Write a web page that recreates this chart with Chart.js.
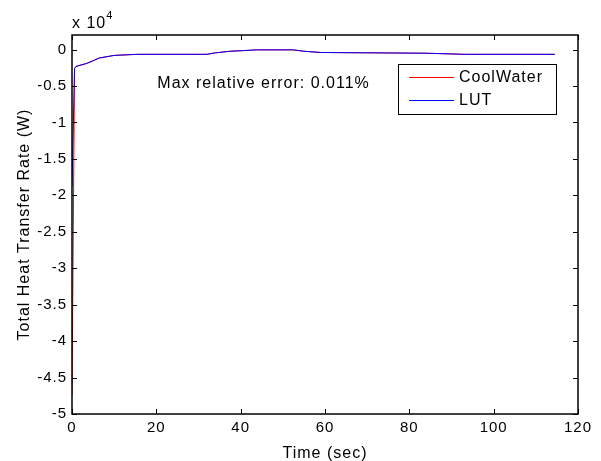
<!DOCTYPE html>
<html>
<head>
<meta charset="utf-8">
<script src="https://cdn.jsdelivr.net/npm/chart.js@4/dist/chart.umd.min.js"></script>
<style>
  html, body { margin: 0; padding: 0; background: #fff; }
  #wrap { width: 601px; height: 461px; }
</style>
</head>
<body>
<div id="wrap"><canvas id="heatChart" width="601" height="461"></canvas></div>
<script>
// ---- data (W vs sec) ----
const timeCool = [0, 0.6, 1, 3.5, 6.5, 10, 15.5, 32, 34, 37.5, 44, 52.5, 55, 59, 84, 93, 114.5];
const heatCool = [-47400, -2600, -2300, -1900, -1150, -800, -650, -650, -450, -230, -40, -40, -230, -400, -500, -650, -650];
const timeLut = [0, 0.6, 1, 3.5, 6.5, 10, 15.5, 32, 34, 37.5, 44, 52.5, 55, 59, 84, 93, 114.5];
const heatLut = [-18800, -2600, -2300, -1900, -1150, -800, -650, -650, -450, -230, -40, -40, -230, -400, -500, -650, -650];
const seriesNames = ["CoolWater", "LUT"];
const xTicks = [0, 20, 40, 60, 80, 100, 120];
const yTicks = [0, -5000, -10000, -15000, -20000, -25000, -30000, -35000, -40000, -45000, -50000];
const noteText = "Max relative error: 0.011%";

const FONT = "'Liberation Sans', Arial, sans-serif";

function toPoints(xs, ys) {
    return xs.map((x, i) => ({ x: x, y: ys[i] }));
}

// matlab text is a bit wider than Arial, fake it with letter spacing
const spacing = {
    id: "spacing",
    beforeLayout(chart) { chart.ctx.letterSpacing = "1px"; },
    beforeDraw(chart) { chart.ctx.letterSpacing = "1px"; }
};

// MATLAB style box, inward ticks, exponent, note and legend
const matlabDecor = {
    id: "matlabDecor",
    afterDraw(chart) {
        const ctx = chart.ctx;
        const a = chart.chartArea;
        const xs = chart.scales.x;
        const ys = chart.scales.y;
        const tl = 5;
        ctx.save();
        ctx.strokeStyle = "#000";
        ctx.lineWidth = 1;
        ctx.beginPath();
        xTicks.forEach(v => {
            const px = Math.round(xs.getPixelForValue(v)) + 0.5;
            ctx.moveTo(px, a.bottom); ctx.lineTo(px, a.bottom - tl);
            ctx.moveTo(px, a.top); ctx.lineTo(px, a.top + tl);
        });
        yTicks.forEach(v => {
            const py = Math.round(ys.getPixelForValue(v)) + 0.5;
            ctx.moveTo(a.left, py); ctx.lineTo(a.left + tl, py);
            ctx.moveTo(a.right, py); ctx.lineTo(a.right - tl, py);
        });
        ctx.stroke();

        // axes box
        ctx.lineWidth = 1.5;
        ctx.strokeRect(a.left, a.top, a.right - a.left, a.bottom - a.top);

        // exponent label
        ctx.fillStyle = "#000";
        ctx.textBaseline = "alphabetic";
        ctx.textAlign = "left";
        ctx.font = "16px " + FONT;
        ctx.fillText("x 10", a.left, 28);
        const w = ctx.measureText("x 10").width;
        ctx.font = "11px " + FONT;
        ctx.fillText("4", a.left + w, 19);

        // note
        ctx.font = "16px " + FONT;
        ctx.textBaseline = "middle";
        ctx.fillText(noteText, xs.getPixelForValue(20) + 1, ys.getPixelForValue(-5000) - 2);

        // legend
        const lx = 398, ly = 64, lw = 158, lh = 50;
        ctx.fillStyle = "#fff";
        ctx.fillRect(lx, ly, lw, lh);
        ctx.lineWidth = 1;
        ctx.strokeStyle = "#000";
        ctx.strokeRect(lx + 0.5, ly + 0.5, lw, lh);
        chart.data.datasets.forEach((ds, i) => {
            const yy = ly + 13 + i * 23;
            ctx.strokeStyle = ds.borderColor;
            ctx.beginPath();
            ctx.moveTo(lx + 11, yy + 0.5);
            ctx.lineTo(lx + 56, yy + 0.5);
            ctx.stroke();
            ctx.fillStyle = "#000";
            ctx.fillText(ds.label, lx + 61, yy + 1);
        });
        ctx.restore();
    }
};

const chart = new Chart(document.getElementById("heatChart").getContext("2d"), {
    type: "line",
    data: {
        datasets: [
            {
                label: seriesNames[0],
                data: toPoints(timeCool, heatCool),
                borderColor: "#ff0000",
                borderWidth: 1,
                pointRadius: 0,
                tension: 0,
                order: 1
            },
            {
                label: seriesNames[1],
                data: toPoints(timeLut, heatLut),
                borderColor: "#0000ff",
                borderWidth: 1,
                pointRadius: 0,
                tension: 0,
                order: 0
            }
        ]
    },
    options: {
        responsive: false,
        animation: false,
        layout: { padding: { left: 0, top: 35, right: 23, bottom: 0 } },
        plugins: {
            legend: { display: false },
            tooltip: { enabled: false }
        },
        scales: {
            x: {
                type: "linear",
                min: 0,
                max: 120,
                afterBuildTicks: s => { s.ticks = xTicks.map(v => ({ value: v })); },
                afterFit: s => { s.height = 47; },
                grid: { display: false, drawTicks: false },
                border: { display: false },
                ticks: { color: "#000", padding: 5, maxRotation: 0, font: { family: FONT, size: 15 } },
                title: {
                    display: true,
                    text: "Time (sec)",
                    color: "#000",
                    padding: { top: 0, bottom: -2 },
                    font: { family: FONT, size: 16 }
                }
            },
            y: {
                type: "linear",
                min: -50000,
                max: 2000,
                afterBuildTicks: s => { s.ticks = yTicks.map(v => ({ value: v })); },
                afterFit: s => { s.width = 72; },
                grid: { display: false, drawTicks: false },
                border: { display: false },
                ticks: {
                    color: "#000",
                    padding: 5,
                    font: { family: FONT, size: 15 },
                    callback: v => String(v / 10000)
                },
                title: {
                    display: true,
                    text: "Total Heat Transfer Rate (W)",
                    color: "#000",
                    padding: { top: 15, bottom: 0 },
                    font: { family: FONT, size: 16 }
                }
            }
        }
    },
    plugins: [spacing, matlabDecor]
});
</script>
</body>
</html>
